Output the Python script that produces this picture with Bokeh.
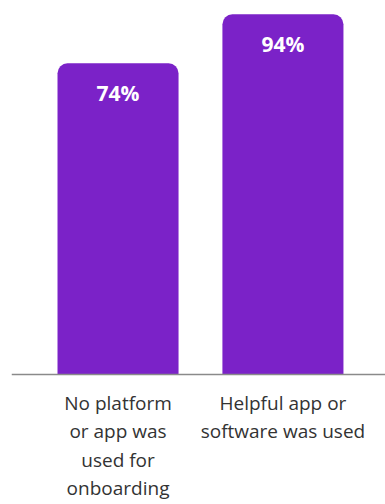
from bokeh.plotting import figure
from bokeh.models import Range1d, ColumnDataSource, Span
from bokeh.embed import file_html
from bokeh.resources import INLINE
from bokeh.core.properties import value

categories = ["No platform\nor app was\nused for\nonboarding", "Helpful app or\nsoftware was used"]
values = [74, 94]
value_labels = ["74%", "94%"]

BASE = -53
Y_START = -106.06
Y_END = 99.65
xs = list(range(len(categories)))
src = ColumnDataSource(dict(x=xs, top=values, label=value_labels,
                            cat=categories, base=[BASE] * len(xs)))

p = figure(width=385, height=504, output_backend="svg", toolbar_location=None,
           x_range=Range1d(-0.646, 1.622), y_range=Range1d(Y_START, Y_END),
           min_border_left=11, min_border_right=0, min_border_top=0, min_border_bottom=0)
p.vbar(x="x", top="top", bottom="base", width=0.734, source=src,
       fill_color="#7B22C8", line_color=None, border_radius=(10, 10, 0, 0))
p.add_layout(Span(location=BASE, dimension="width", line_color="#8a8a8a", line_width=1.5))
p.text(x="x", y="top", text="label", source=src, text_align="center", text_baseline="middle",
       y_offset=29.5, text_color="white", text_font=value("Open Sans"),
       text_font_style="bold", text_font_size="21px")
p.text(x="x", y="base", text="cat", source=src, text_align="center", text_baseline="top",
       y_offset=15, text_color="#333333", text_font=value("Open Sans"),
       text_font_size="19px", text_line_height=1.1)
p.xaxis.visible = False
p.yaxis.visible = False
p.xgrid.visible = False
p.ygrid.visible = False
p.outline_line_color = None

open("out.html", "w").write(file_html(p, INLINE))
